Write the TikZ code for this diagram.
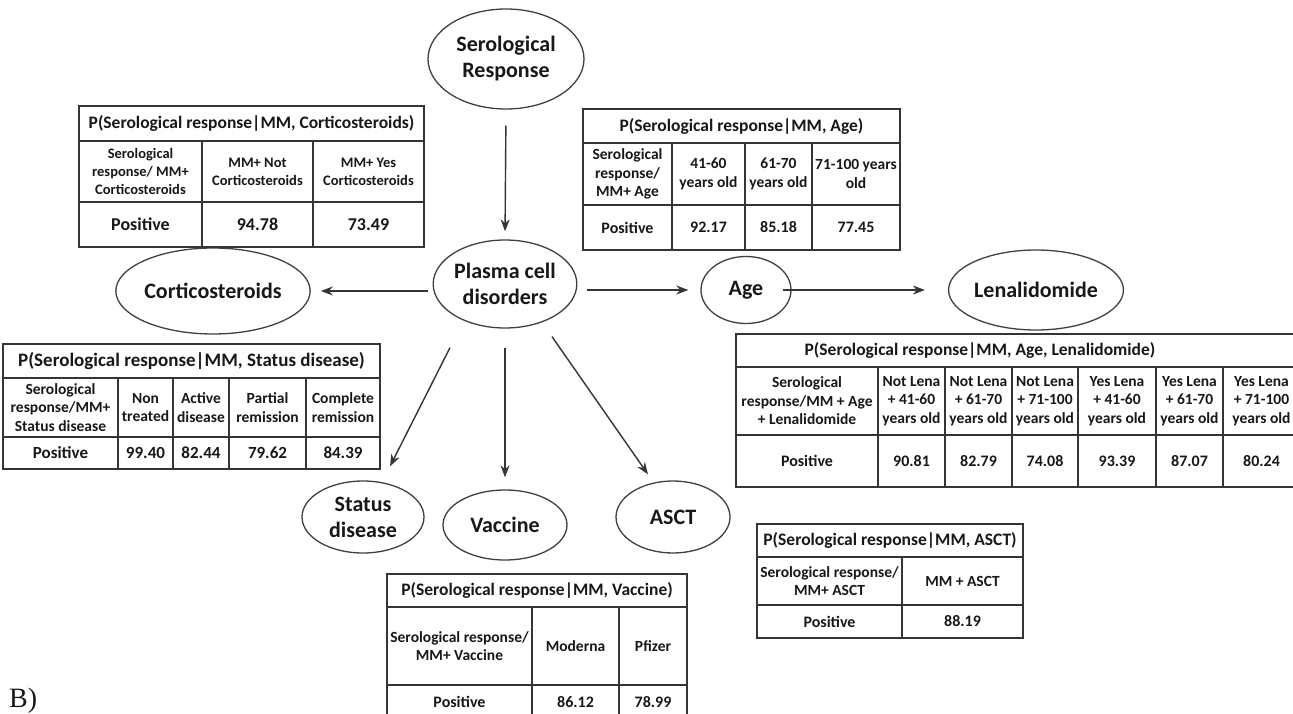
\documentclass[tikz,border=0pt]{standalone}
\usepackage{fontspec}
\setmainfont{Carlito}
\newfontfamily\serifB{Liberation Serif}
\usetikzlibrary{arrows.meta,shapes.geometric}
\definecolor{linec}{HTML}{353535}
\definecolor{ellc}{HTML}{404040}
\definecolor{textc}{HTML}{181818}
\newcommand\Cell[7][]{%
  \node[cellbox,#1,minimum width={(#4-#3)*1pt},minimum height={(#6-#5)*1pt}] (#2) at ({(#3+#4)/2},{(#5+#6)/2}) {#7};}
\begin{document}
\begin{tikzpicture}[x=1pt,y=-1pt,
  cellbox/.style={draw=linec,line width=1.5pt,inner sep=0pt,align=center,text=textc},
  ttl/.style={font=\bfseries\fontsize{17.5}{20}\selectfont},
  ttlbig/.style={font=\bfseries\fontsize{19}{22}\selectfont},
  hdr/.style={font=\bfseries\fontsize{14.5}{18}\selectfont},
  hdrb/.style={font=\bfseries\fontsize{15.5}{18.5}\selectfont},
  rowA/.style={font=\bfseries\fontsize{18}{20}\selectfont},
  rowB/.style={font=\bfseries\fontsize{17}{20}\selectfont},
  rowC/.style={font=\bfseries\fontsize{16}{18}\selectfont},
  ell/.style={ellipse,draw=ellc,line width=1.3pt,inner sep=0pt,align=center,text=textc,
    font=\bfseries\fontsize{22}{26}\selectfont},
  arr/.style={-{Stealth[length=12pt,width=9pt]},line width=1.4pt,draw=linec}]
\useasboundingbox (0,0) rectangle (1293,714);
\clip (0,0) rectangle (1293,714);
\fill[white] (0,0) rectangle (1293,714);

% ---------- ellipses ----------
\node[ell,minimum width=156pt,minimum height=100pt] (ser) at (506,59) {Serological\\Response};
\node[ell,minimum width=134pt,minimum height=88pt] (pl) at (505,284) {Plasma cell\\disorders};
\node[ell,minimum width=90pt,minimum height=67pt] (age) at (746,290) {Age};
\node[ell,minimum width=140pt,minimum height=80pt] (lena) at (1036,290) {Lenalidomide};
\node[ell,minimum width=158pt,minimum height=86pt] (cort) at (213,291) {Corticosteroids};
\node[ell,minimum width=122pt,minimum height=72pt] (st) at (363,517) {Status\\disease};
\node[ell,minimum width=124pt,minimum height=70pt] (vac) at (505,525) {Vaccine};
\node[ell,minimum width=114pt,minimum height=72pt] (asct) at (673,517) {ASCT};

% ---------- arrows ----------
\draw[arr,shorten <=16pt,shorten >=8pt] (ser.south) -- (pl.north);
\draw[arr,shorten <=5pt,shorten >=10pt] (pl.west |- cort.east) -- (cort.east);
\draw[arr,shorten <=10pt,shorten >=12pt] (pl.east |- age.west) -- (age.west);
\draw[arr,shorten >=23pt] ([xshift=-9pt]age.east) -- (lena.west);
\draw[arr] ([xshift=-55pt,yshift=-19pt]pl.south) -- ([xshift=27pt,yshift=14pt]st.north);
\draw[arr] ([yshift=-19pt]pl.south) -- ([yshift=12pt]vac.north);
\draw[arr] ([xshift=47pt,yshift=-8pt]pl.south) -- ([xshift=-25pt,yshift=6pt]asct.north);

% ---------- table: corticosteroids ----------
\Cell[ttl]{ta}{79}{424}{106}{141}{P(Serological response|MM, Corticosteroids)}
\Cell[hdr]{ta1}{79}{202}{141}{202}{Serological\\response/ MM+\\Corticosteroids}
\Cell[hdr]{ta2}{202}{313}{141}{202}{MM+ Not\\Corticosteroids}
\Cell[hdr]{ta3}{313}{424}{141}{202}{MM+ Yes\\Corticosteroids}
\Cell[rowA]{ta4}{79}{202}{202}{247}{Positive}
\Cell[rowA]{ta5}{202}{313}{202}{247}{94.78}
\Cell[rowA]{ta6}{313}{424}{202}{247}{73.49}

% ---------- table: age ----------
\Cell[ttl]{tb}{583}{900}{109}{143}{P(Serological response|MM, Age)}
\Cell[hdrb]{tb1}{583}{672}{143}{205}{Serological\\response/\\MM+ Age}
\Cell[hdrb]{tb2}{672}{745}{143}{205}{41-60\\years old}
\Cell[hdrb]{tb3}{745}{812}{143}{205}{61-70\\years old}
\Cell[hdrb]{tb4}{812}{900}{143}{205}{71-100 years\\old}
\Cell[rowC]{tb5}{583}{672}{205}{250}{Positive}
\Cell[rowC]{tb6}{672}{745}{205}{250}{92.17}
\Cell[rowC]{tb7}{745}{812}{205}{250}{85.18}
\Cell[rowC]{tb8}{812}{900}{205}{250}{77.45}

% ---------- table: status disease ----------
\Cell[ttlbig]{tc}{3}{380}{344}{378}{P(Serological response|MM, Status disease)}
\Cell[hdrb]{tc1}{3}{118}{378}{437}{Serological\\response/MM+\\Status disease}
\Cell[hdrb]{tc2}{118}{173}{378}{437}{Non\\treated}
\Cell[hdrb]{tc3}{173}{229}{378}{437}{Active\\disease}
\Cell[hdrb]{tc4}{229}{306}{378}{437}{Partial\\remission}
\Cell[hdrb]{tc5}{306}{380}{378}{437}{Complete\\remission}
\Cell[rowB]{tc6}{3}{118}{437}{469}{Positive}
\Cell[rowB]{tc7}{118}{173}{437}{469}{99.40}
\Cell[rowB]{tc8}{173}{229}{437}{469}{82.44}
\Cell[rowB]{tc9}{229}{306}{437}{469}{79.62}
\Cell[rowB]{tc10}{306}{380}{437}{469}{84.39}

% ---------- table: age + lenalidomide ----------
\Cell{td}{736}{1300}{334}{367}{}
\node[ttl,text=textc,inner sep=0pt] (tdt) at (980,350.5) {P(Serological response|MM, Age, Lenalidomide)};
\Cell[hdrb]{td1}{736}{878}{367}{435}{Serological\\response/MM + Age\\+ Lenalidomide}
\Cell[hdrb]{td2}{878}{945}{367}{435}{Not Lena\\+ 41-60\\years old}
\Cell[hdrb]{td3}{945}{1012}{367}{435}{Not Lena\\+ 61-70\\years old}
\Cell[hdrb]{td4}{1012}{1078}{367}{435}{Not Lena\\+ 71-100\\years old}
\Cell[hdrb]{td5}{1078}{1156}{367}{435}{Yes Lena\\+ 41-60\\years old}
\Cell[hdrb]{td6}{1156}{1223}{367}{435}{Yes Lena\\+ 61-70\\years old}
\Cell[hdrb]{td7}{1223}{1300}{367}{435}{Yes Lena\\+ 71-100\\years old}
\Cell[rowC]{td8}{736}{878}{435}{487}{Positive}
\Cell[rowC]{td9}{878}{945}{435}{487}{90.81}
\Cell[rowC]{td10}{945}{1012}{435}{487}{82.79}
\Cell[rowC]{td11}{1012}{1078}{435}{487}{74.08}
\Cell[rowC]{td12}{1078}{1156}{435}{487}{93.39}
\Cell[rowC]{td13}{1156}{1223}{435}{487}{87.07}
\Cell[rowC]{td14}{1223}{1300}{435}{487}{80.24}

% ---------- table: ASCT ----------
\Cell[ttl]{te}{757}{1023}{524}{557}{P(Serological response|MM, ASCT)}
\Cell[hdrb]{te1}{757}{902}{557}{605}{Serological response/\\MM+ ASCT}
\Cell[hdrb]{te2}{902}{1023}{557}{605}{MM + ASCT}
\Cell[rowC]{te3}{757}{902}{605}{638}{Positive}
\Cell[rowC]{te4}{902}{1023}{605}{638}{88.19}

% ---------- table: vaccine ----------
\Cell[ttl]{tf}{387}{687}{574}{607}{P(Serological response|MM, Vaccine)}
\Cell[hdrb]{tf1}{387}{532}{607}{685}{Serological response/\\MM+ Vaccine}
\Cell[hdrb]{tf2}{532}{619}{607}{685}{Moderna}
\Cell[hdrb]{tf3}{619}{687}{607}{685}{Pfizer}
\Cell[rowC]{tf4}{387}{532}{685}{720}{\raisebox{1pt}{Positive}}
\Cell[rowC]{tf5}{532}{619}{685}{720}{86.12}
\Cell[rowC]{tf6}{619}{687}{685}{720}{78.99}

% ---------- label ----------
\node[anchor=base west,inner sep=0pt,text=textc,font=\serifB\fontsize{28}{30}\selectfont] (lbl) at (9,707) {B)};
\end{tikzpicture}
\end{document}
